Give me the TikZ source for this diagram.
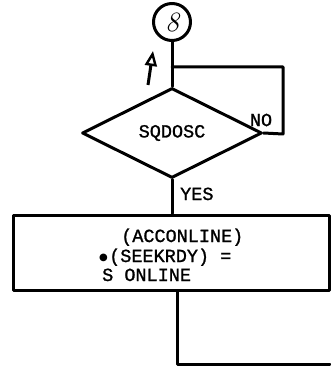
\documentclass[tikz,border=0pt]{standalone}
\usepackage{fontspec}
\newfontfamily\tw{Liberation Mono}[FakeBold=1.2]
\newfontfamily\symfont{DejaVu Sans}
\usetikzlibrary{shapes.geometric,arrows.meta}
\begin{document}
\begin{tikzpicture}[x=1pt,y=-1pt,
  ln/.style={line width=3pt, line cap=round, line join=round},
  txt/.style={font=\tw\fontsize{18.5}{20}\selectfont, inner sep=0pt},
]
\useasboundingbox (0,0) rectangle (330,366);
% connector circle
\node[ln, draw, circle, minimum size=37pt, inner sep=0pt] (conn) at (172,22)
  {\fontsize{28}{28}\selectfont\itshape 8};
% decision
\node[ln, draw, diamond, minimum width=180pt, minimum height=90pt, inner sep=0pt,
  txt] (dec) at (172,133) {SQDOSC};
% process box
\node[ln, draw, rectangle, minimum width=316pt, minimum height=75pt, inner sep=0pt]
  (box) at (171,252.5) {};
\node[txt, anchor=base west] (l1) at (121,242) {(ACCONLINE)};
\node[inner sep=0pt, anchor=base west, font=\symfont\fontsize{10}{10}\selectfont] (bul) at (99,260) {●};
\node[txt, anchor=base west] (l2) at (109,262) {(SEEKRDY) =};
\node[txt, anchor=base west] (l3) at (102,281) {S ONLINE};
% labels
\node[txt] (no) at (261,120) {NO};
\node[txt, anchor=base west] (yes) at (180,200) {YES};
% coordinates
\coordinate (j) at (172,67);
\coordinate (nr) at (283,134);
\coordinate (nt) at (283,67);
\coordinate (b1) at (177,364);
\coordinate (b2) at (330,364);
\coordinate (a1) at (148,85);
\coordinate (a2) at (153,51);
% connectors
\draw[ln] (conn.south) -- (dec.north);
\draw[ln] (dec.east) -- (nr) -- (nt) -- (j);
\draw[ln] (dec.south) -- (dec.south |- box.north);
\draw[ln] (box.south -| b1) -- (b1) -- (b2);
\draw[line width=3pt, -{Triangle[open, length=15pt, width=12pt, line width=2.4pt]}] (a1) -- (a2);
\end{tikzpicture}
\end{document}
